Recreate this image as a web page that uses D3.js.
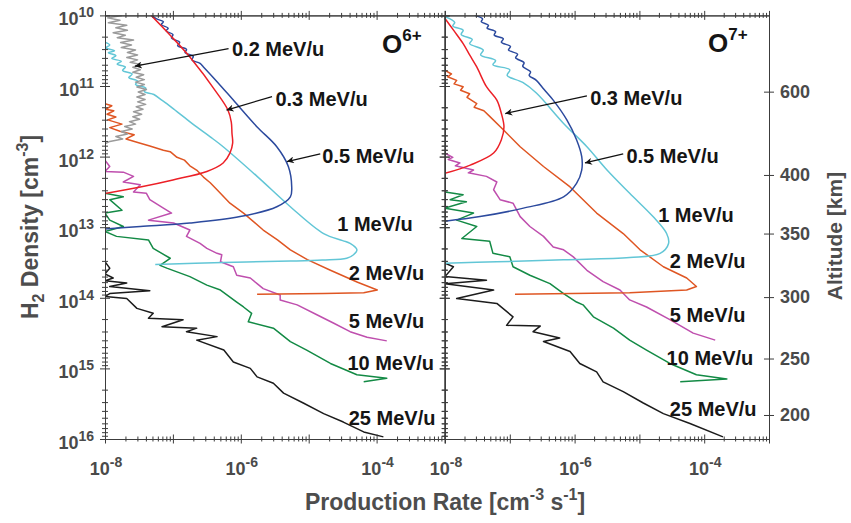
<!DOCTYPE html>
<html>
<head>
<meta charset="utf-8">
<script src="https://cdn.jsdelivr.net/npm/d3@7"></script>
<style>
body { margin: 0; background: #fff; }
text { font-family: "Liberation Sans", Arial, Helvetica, sans-serif; font-weight: bold; }
</style>
</head>
<body>
<svg id="chart" width="851" height="523"></svg>
<script>
// all values are log10: [log10 production rate (cm^-3 s^-1), log10 H2 density (cm^-3)]

// ---- O6+ panel ----
var o6_02 = [[-7.75,10.00],[-7.96,10.035],[-7.78,10.07],[-7.95,10.105],[-7.68,10.14],[-7.84,10.175],[-7.67,10.21],[-7.88,10.245],[-7.70,10.28],[-7.82,10.315],[-7.58,10.35],[-7.77,10.385],[-7.61,10.42],[-7.76,10.455],[-7.55,10.49],[-7.67,10.525],[-7.52,10.56],[-7.68,10.595],[-7.52,10.63],[-7.63,10.665],[-7.46,10.70],[-7.59,10.735],[-7.48,10.77],[-7.59,10.805],[-7.43,10.84],[-7.54,10.875],[-7.42,10.91],[-7.55,10.945],[-7.42,10.98],[-7.53,11.015],[-7.39,11.05],[-7.51,11.085],[-7.41,11.12],[-7.53,11.155],[-7.41,11.19],[-7.52,11.225],[-7.40,11.26],[-7.54,11.295],[-7.44,11.33],[-7.58,11.365],[-7.46,11.40],[-7.59,11.435],[-7.49,11.47],[-7.64,11.505],[-7.55,11.54],[-7.71,11.575],[-7.60,11.61],[-7.76,11.645],[-7.67,11.68],[-7.84,11.715],[-7.74,11.75],[-7.93,11.785],[-8.00,11.82]];
var o6_03 = [[-7.32,10.00],[-7.04,10.28],[-6.75,10.59],[-6.35,11.10],[-6.19,11.34],[-6.14,11.51],[-6.13,11.67],[-6.12,11.81],[-6.16,11.95],[-6.26,12.09],[-6.50,12.21],[-7.00,12.33],[-7.48,12.43],[-8.05,12.53]];
var o6_05 = [[-7.31,10.00],[-7.24,10.05],[-7.14,10.09],[-7.17,10.13],[-7.07,10.18],[-7.10,10.22],[-7.00,10.27],[-7.02,10.32],[-6.90,10.38],[-6.93,10.43],[-6.80,10.48],[-6.82,10.53],[-6.70,10.58],[-6.72,10.63],[-6.60,10.68],[-6.55,10.73],[-6.33,10.96],[-6.11,11.20],[-5.76,11.58],[-5.47,11.86],[-5.30,12.14],[-5.25,12.43],[-5.27,12.57],[-5.47,12.71],[-6.01,12.85],[-6.75,12.94],[-7.48,12.99],[-8.05,13.03]];
var o6_1 = [[-8.00,10.38],[-7.93,10.42],[-7.99,10.46],[-7.86,10.50],[-7.95,10.53],[-7.84,10.57],[-7.90,10.61],[-7.76,10.65],[-7.82,10.69],[-7.70,10.73],[-7.74,10.78],[-7.60,10.83],[-7.65,10.88],[-7.52,10.93],[-7.55,10.98],[-7.40,11.03],[-7.42,11.08],[-7.28,11.12],[-7.18,11.19],[-7.09,11.25],[-6.97,11.34],[-6.85,11.43],[-6.65,11.58],[-6.45,11.72],[-6.26,11.86],[-5.76,12.28],[-5.27,12.71],[-4.78,13.09],[-4.50,13.19],[-4.39,13.23],[-4.29,13.32],[-4.34,13.39],[-4.44,13.44],[-4.80,13.465],[-5.27,13.48],[-6.26,13.50],[-7.26,13.53]];
var o6_2 = [[-8.00,11.25],[-7.90,11.28],[-7.99,11.33],[-7.87,11.35],[-7.97,11.40],[-7.84,11.44],[-7.96,11.48],[-7.75,11.54],[-7.93,11.59],[-7.78,11.64],[-7.57,11.69],[-7.69,11.75],[-7.48,11.81],[-7.34,11.85],[-7.14,11.91],[-7.04,11.93],[-6.94,12.01],[-6.83,12.05],[-6.75,12.13],[-6.64,12.20],[-6.55,12.29],[-6.45,12.37],[-6.35,12.47],[-6.16,12.66],[-5.96,12.80],[-5.67,13.04],[-5.46,13.18],[-5.27,13.32],[-5.02,13.46],[-4.68,13.61],[-4.28,13.78],[-3.99,13.89],[-4.19,13.93],[-4.78,13.94],[-5.76,13.95]];
var o6_5 = [[-8.00,12.05],[-7.93,12.14],[-8.00,12.21],[-7.73,12.22],[-7.58,12.28],[-7.73,12.36],[-7.48,12.40],[-7.58,12.50],[-7.39,12.52],[-7.34,12.61],[-7.14,12.73],[-7.02,12.80],[-7.36,12.90],[-6.99,12.94],[-6.75,13.04],[-6.80,13.13],[-6.60,13.23],[-6.50,13.30],[-6.35,13.37],[-6.28,13.39],[-6.30,13.49],[-6.11,13.56],[-6.06,13.68],[-5.86,13.72],[-5.76,13.80],[-5.67,13.87],[-5.42,13.96],[-5.42,14.03],[-5.17,14.10],[-4.88,14.24],[-4.63,14.36],[-4.39,14.48],[-4.14,14.56],[-3.85,14.61]];
var o6_10 = [[-8.00,12.52],[-7.73,12.57],[-7.93,12.61],[-7.75,12.76],[-8.00,12.80],[-7.93,12.90],[-7.73,12.99],[-8.00,13.06],[-7.83,13.13],[-7.36,13.18],[-7.29,13.30],[-7.04,13.44],[-7.19,13.54],[-7.09,13.58],[-6.75,13.70],[-6.50,13.82],[-6.30,13.89],[-6.06,14.06],[-5.96,14.13],[-5.84,14.22],[-5.89,14.34],[-5.52,14.43],[-5.27,14.62],[-5.03,14.74],[-4.68,14.93],[-4.29,15.09],[-3.85,15.14],[-4.19,15.19]];
var o6_25 = [[-8.00,13.49],[-7.93,13.58],[-8.00,13.66],[-7.88,13.72],[-8.00,13.76],[-7.68,13.79],[-7.93,13.84],[-7.34,13.90],[-7.93,13.94],[-8.00,13.98],[-7.68,14.01],[-7.53,14.15],[-7.29,14.22],[-7.36,14.29],[-6.85,14.31],[-7.16,14.41],[-6.65,14.43],[-6.80,14.48],[-6.35,14.55],[-6.65,14.60],[-6.25,14.74],[-6.11,14.91],[-5.86,15.00],[-5.76,15.12],[-5.52,15.21],[-5.37,15.35],[-5.08,15.49],[-4.78,15.64],[-4.49,15.76],[-4.19,15.90],[-3.90,15.97]];

// ---- O7+ panel ----
var o7_03 = [[-8.05,9.98],[-7.86,10.22],[-7.72,10.40],[-7.62,10.56],[-7.51,10.73],[-7.36,11.01],[-7.20,11.20],[-7.13,11.39],[-7.09,11.58],[-7.13,11.76],[-7.25,11.95],[-7.61,12.12],[-8.05,12.25]];
var o7_05 = [[-7.54,10.00],[-7.42,10.05],[-7.44,10.09],[-7.33,10.14],[-7.35,10.18],[-7.22,10.23],[-7.24,10.28],[-7.10,10.33],[-7.13,10.38],[-6.99,10.44],[-7.02,10.49],[-6.88,10.55],[-6.91,10.60],[-6.78,10.67],[-6.80,10.72],[-6.68,10.80],[-6.70,10.85],[-6.59,10.92],[-6.47,11.05],[-6.33,11.20],[-6.12,11.48],[-5.97,11.76],[-5.89,12.00],[-5.89,12.19],[-5.97,12.38],[-6.17,12.57],[-6.79,12.73],[-7.46,12.85],[-8.05,12.92]];
var o7_1 = [[-8.00,10.02],[-7.85,10.10],[-7.88,10.15],[-7.72,10.21],[-7.75,10.27],[-7.58,10.34],[-7.62,10.40],[-7.41,10.49],[-7.45,10.56],[-7.22,10.64],[-7.26,10.70],[-7.00,10.77],[-7.04,10.85],[-6.80,10.95],[-6.59,11.10],[-6.17,11.53],[-5.81,11.86],[-5.50,12.19],[-5.15,12.52],[-4.79,12.85],[-4.58,13.09],[-4.55,13.23],[-4.68,13.37],[-5.15,13.43],[-6.17,13.46],[-7.20,13.49],[-8.00,13.51]];
var o7_2 = [[-8.00,10.78],[-7.90,10.83],[-7.96,10.87],[-7.82,10.92],[-7.86,10.97],[-7.72,11.01],[-7.76,11.06],[-7.62,11.11],[-7.66,11.16],[-7.51,11.25],[-7.55,11.30],[-7.40,11.35],[-7.31,11.43],[-7.10,11.62],[-6.84,11.86],[-6.48,12.14],[-6.07,12.43],[-5.66,12.80],[-5.25,13.09],[-4.99,13.32],[-4.63,13.56],[-4.27,13.72],[-4.12,13.84],[-4.27,13.89],[-5.15,13.93],[-6.92,13.95]];
var o7_5 = [[-8.00,11.95],[-7.88,12.01],[-7.95,12.04],[-7.77,12.09],[-7.84,12.13],[-7.56,12.19],[-7.64,12.23],[-7.36,12.28],[-7.20,12.36],[-7.25,12.47],[-7.15,12.61],[-6.95,12.66],[-6.84,12.85],[-6.69,12.99],[-6.48,13.13],[-6.33,13.28],[-6.17,13.32],[-6.02,13.42],[-5.81,13.61],[-5.56,13.77],[-5.30,13.89],[-5.15,14.03],[-4.89,14.13],[-4.53,14.31],[-4.17,14.50],[-3.83,14.60]];
var o7_10 = [[-8.00,12.50],[-7.72,12.54],[-7.92,12.61],[-7.67,12.64],[-8.00,12.73],[-7.56,12.80],[-7.82,12.90],[-7.51,12.99],[-7.74,13.16],[-7.31,13.20],[-7.26,13.37],[-7.00,13.42],[-6.95,13.56],[-6.69,13.68],[-6.38,13.80],[-6.17,13.94],[-5.97,14.06],[-5.87,14.10],[-5.71,14.27],[-5.40,14.43],[-5.15,14.60],[-4.89,14.74],[-4.53,14.93],[-4.12,15.09],[-3.65,15.15],[-4.37,15.19]];
var o7_25 = [[-8.00,13.51],[-7.87,13.56],[-8.00,13.70],[-7.36,13.75],[-8.00,13.80],[-7.25,13.89],[-7.82,14.01],[-7.20,14.08],[-6.95,14.27],[-7.05,14.39],[-6.53,14.40],[-6.64,14.48],[-6.23,14.57],[-6.48,14.62],[-6.07,14.76],[-5.92,14.93],[-5.66,15.05],[-5.56,15.19],[-5.25,15.33],[-4.94,15.49],[-4.63,15.64],[-4.22,15.78],[-3.71,15.97]];

// energy labels, arrows, titles (log10 coords)
var labelsO6 = ["0.2 MeV/u","0.3 MeV/u","0.5 MeV/u","1 MeV/u","2 MeV/u","5 MeV/u","10 MeV/u","25 MeV/u"];
var labelAtO6 = [[-6.13,10.58],[-5.49,11.28],[-4.80,12.09],[-4.58,13.06],[-4.41,13.75],[-4.41,14.43],[-4.43,15.02],[-4.41,15.80]];
var arrowsO6 = [[-6.18,10.47,-7.56,10.72],[-5.54,11.15,-6.21,11.34],[-4.83,11.96,-5.32,12.07]];
var labelsO7 = ["0.3 MeV/u","0.5 MeV/u","1 MeV/u","2 MeV/u","5 MeV/u","10 MeV/u","25 MeV/u"];
var labelAtO7 = [[-5.76,11.27],[-5.20,12.09],[-4.71,12.92],[-4.53,13.58],[-4.53,14.34],[-4.58,14.95],[-4.53,15.68]];
var arrowsO7 = [[-5.81,11.14,-7.07,11.39],[-5.25,11.96,-5.84,12.09]];

// axes
var xDecades = [-8,-7,-6,-5,-4,-3];
var xTickLabels = [-8,-6,-4];
var yDecades = [10,11,12,13,14,15,16];
var altLabels = [200,250,300,350,400,600];
var altDensity = [15.66,14.86,13.99,13.09,12.26,11.08];

var colors = {e02:"#9b9b9b", e03:"#ec2027", e05:"#2c4a9e", e1:"#62c6d6", e2:"#df5623", e5:"#bf4fae", e10:"#138a45", e25:"#1c1c1c"};
var smooth = {e03:true, e05:true, e1:true};   // these are drawn with a spline, the noisy ones straight
var axisCol = "#3c3c3c", tickText = "#4a4a4a";

var svg = d3.select("#chart");
svg.append("rect").attr("width",851).attr("height",523).attr("fill","#fff");

var y = d3.scaleLog().domain([1e10,1e16]).range([15.4,439]);
var p10 = function(v){ return Math.pow(10,v); };

var minorX = [], minorY = [];
xDecades.slice(0,-1).forEach(function(k){ for (var m=2;m<10;m++) minorX.push(m*p10(k)); });
yDecades.slice(0,-1).forEach(function(k){ for (var m=2;m<10;m++) minorY.push(m*p10(k)); });

svg.append("defs").append("marker")
  .attr("id","arr").attr("viewBox","0 0 10 10").attr("refX",10).attr("refY",5)
  .attr("markerWidth",9).attr("markerHeight",7).attr("markerUnits","userSpaceOnUse").attr("orient","auto")
  .append("path").attr("d","M0,0 L10,5 L0,10 L3,5 Z").attr("fill","#111");

var panels = [
  {id:"p6", range:[105,444.5], title:"6+", titleAt:[-3.92,10.53],
   series:[[o6_25,"e25"],[o6_10,"e10"],[o6_5,"e5"],[o6_2,"e2"],[o6_1,"e1"],[o6_05,"e05"],[o6_02,"e02"],[o6_03,"e03"]],
   labels:labelsO6, labelAt:labelAtO6, arrows:arrowsO6},
  {id:"p7", range:[445,769], title:"7+", titleAt:[-3.94,10.52],
   series:[[o7_25,"e25"],[o7_10,"e10"],[o7_5,"e5"],[o7_2,"e2"],[o7_1,"e1"],[o7_05,"e05"],[o7_03,"e03"]],
   labels:labelsO7, labelAt:labelAtO7, arrows:arrowsO7}
];

function bothWays(g, horiz, len){
  g.selectAll(".tick line").attr(horiz?"y1":"x1",-len).attr(horiz?"y2":"x2",len).attr("stroke",axisCol);
  g.select(".domain").attr("stroke",axisCol);
}

panels.forEach(function(p, pi){
  var x = d3.scaleLog().domain([1e-8,1e-3]).range(p.range);
  var g = svg.append("g");
  g.append("clipPath").attr("id","clip"+p.id).append("rect")
    .attr("x",p.range[0]).attr("y",15.4).attr("width",p.range[1]-p.range[0]).attr("height",439-15.4);

  function line(s){
    return d3.line()
      .x(function(d){ return x(p10(d[0])); })
      .y(function(d){ return y(p10(d[1])); })
      .curve(smooth[s[1]] ? d3.curveCatmullRom.alpha(0.5) : d3.curveLinear)(s[0]);
  }

  g.append("g").attr("clip-path","url(#clip"+p.id+")")
    .selectAll("path").data(p.series).enter().append("path")
    .attr("d",line)
    .attr("fill","none").attr("stroke",function(s){ return colors[s[1]]; })
    .attr("stroke-width",1.5).attr("stroke-linejoin","round");

  // x axes bottom/top
  [[439,d3.axisBottom],[15.4,d3.axisTop]].forEach(function(a){
    var ga = g.append("g").attr("transform","translate(0,"+a[0]+")");
    ga.call(a[1](x).tickValues(xDecades.map(p10)).tickSizeOuter(0).tickFormat(""));
    bothWays(ga,true,4.5);
    var gm = g.append("g").attr("transform","translate(0,"+a[0]+")");
    gm.call(a[1](x).tickValues(minorX).tickSizeOuter(0).tickFormat(""));
    bothWays(gm,true,2.5);
  });

  // y axes
  var ySides = pi === 0 ? [p.range[0], p.range[1]] : [p.range[0]];
  ySides.forEach(function(xx){
    var ga = g.append("g").attr("transform","translate("+xx+",0)");
    ga.call(d3.axisLeft(y).tickValues(yDecades.map(p10)).tickSizeOuter(0).tickFormat(""));
    bothWays(ga,false,5);
    var gm = g.append("g").attr("transform","translate("+xx+",0)");
    gm.call(d3.axisLeft(y).tickValues(minorY).tickSizeOuter(0).tickFormat(""));
    bothWays(gm,false,3);
  });

  // x tick labels
  var xl = g.selectAll(".xl").data(xTickLabels).enter().append("text")
    .attr("x",function(d){ return x(p10(d)) + 1; }).attr("y",475)
    .attr("text-anchor","middle").attr("fill",tickText).style("font-size","18px");
  xl.append("tspan").text("10");
  xl.append("tspan").attr("dy",-8).style("font-size","14px").text(function(d){ return String(d); });

  // energy labels
  g.selectAll(".lab").data(p.labels).enter().append("text")
    .attr("x",function(d,i){ return x(p10(p.labelAt[i][0])); })
    .attr("y",function(d,i){ return y(p10(p.labelAt[i][1])); })
    .attr("fill","#151515").style("font-size","20px").text(function(d){ return d; });

  g.selectAll(".arr").data(p.arrows).enter().append("line")
    .attr("x1",function(d){ return x(p10(d[0])); }).attr("y1",function(d){ return y(p10(d[1])); })
    .attr("x2",function(d){ return x(p10(d[2])); }).attr("y2",function(d){ return y(p10(d[3])); })
    .attr("stroke","#111").attr("stroke-width",1.3).attr("marker-end","url(#arr)");

  var t = g.append("text").attr("x",x(p10(p.titleAt[0]))).attr("y",y(p10(p.titleAt[1])))
    .attr("fill","#151515").style("font-size","26px");
  t.append("tspan").text("O");
  t.append("tspan").attr("dy",-12).style("font-size","17px").text(p.title);
});

// y tick labels (left)
var yl = svg.selectAll(".yl").data(yDecades).enter().append("text")
  .attr("x",94).attr("y",function(d){ return y(p10(d)) + 10; })
  .attr("text-anchor","end").attr("fill",tickText).style("font-size","18px");
yl.append("tspan").text("10");
yl.append("tspan").attr("dy",-8).style("font-size","14px").text(function(d){ return String(d); });

// altitude axis (right)
var ga = svg.append("g").attr("transform","translate(769,0)");
ga.call(d3.axisRight(y).tickValues(altDensity.map(p10)).tickSize(5).tickPadding(6).tickSizeOuter(0)
  .tickFormat(function(d,i){ return altLabels[i]; }));
bothWays(ga,false,5);
ga.selectAll("text").attr("fill",tickText).style("font-size","18px")
  .style("font-family","'Liberation Sans', Arial, sans-serif").style("font-weight","bold");

// axis titles
var xt = svg.append("text").attr("x",445).attr("y",510).attr("text-anchor","middle")
  .attr("fill","#4d4d4d").style("font-size","23px");
xt.append("tspan").text("Production Rate [cm");
xt.append("tspan").attr("dy",-10).style("font-size","16px").text("-3");
xt.append("tspan").attr("dy",10).text(" s");
xt.append("tspan").attr("dy",-10).style("font-size","16px").text("-1");
xt.append("tspan").attr("dy",10).text("]");

var ytl = svg.append("text").attr("transform","translate(38,227) rotate(-90)").attr("text-anchor","middle")
  .attr("fill","#4d4d4d").style("font-size","23px");
ytl.append("tspan").text("H");
ytl.append("tspan").attr("dy",6).style("font-size","16px").text("2");
ytl.append("tspan").attr("dy",-6).text(" Density [cm");
ytl.append("tspan").attr("dy",-10).style("font-size","16px").text("-3");
ytl.append("tspan").attr("dy",10).text("]");

svg.append("text").attr("transform","translate(842,236) rotate(-90)").attr("text-anchor","middle")
  .attr("fill","#4d4d4d").style("font-size","21px").text("Altitude [km]");
</script>
</body>
</html>
